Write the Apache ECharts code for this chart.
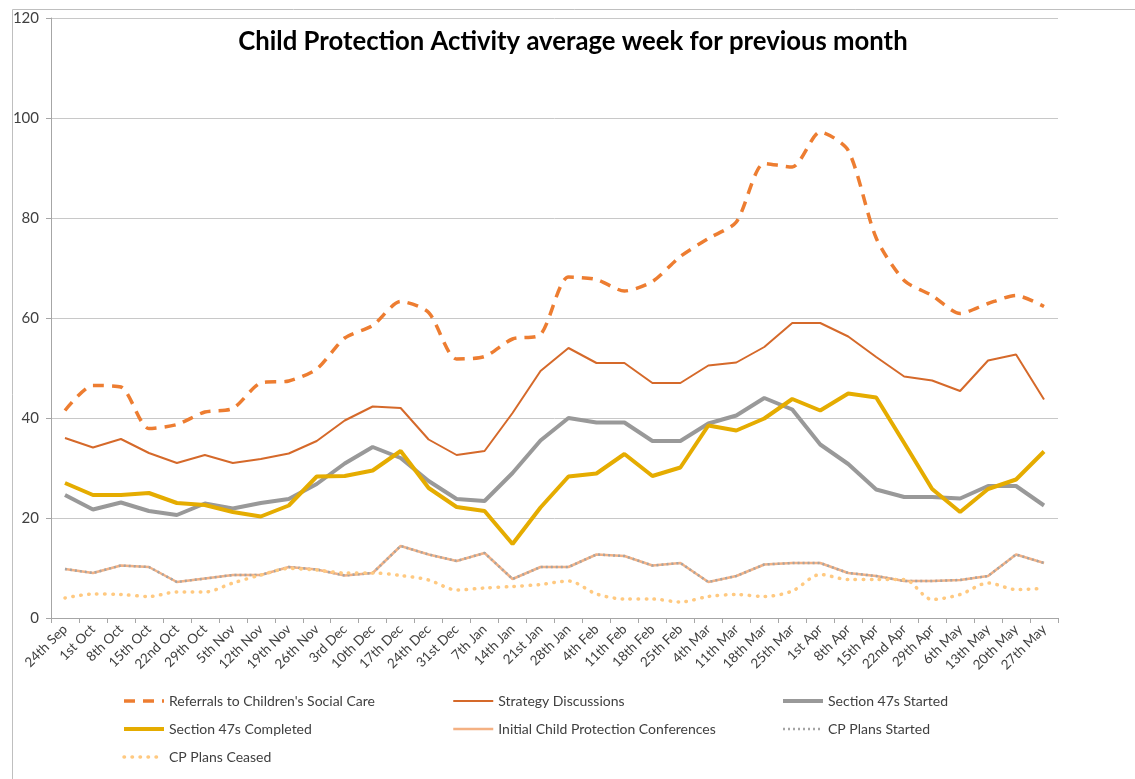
<!DOCTYPE html>
<html>
<head>
<meta charset="utf-8">
<script src="https://cdn.jsdelivr.net/npm/echarts@6/dist/echarts.min.js"></script>
<style>html,body{margin:0;padding:0;background:#fff;}#c{width:1135px;height:779px;}</style>
</head>
<body>
<div id="c"></div>
<script>
var categories = ['24th Sep','1st Oct','8th Oct','15th Oct','22nd Oct','29th Oct','5th Nov','12th Nov','19th Nov','26th Nov','3rd Dec','10th Dec','17th Dec','24th Dec','31st Dec','7th Jan','14th Jan','21st Jan','28th Jan','4th Feb','11th Feb','18th Feb','25th Feb','4th Mar','11th Mar','18th Mar','25th Mar','1st Apr','8th Apr','15th Apr','22nd Apr','29th Apr','6th May','13th May','20th May','27th May'];
var referrals = [41.5,46.5,46.2,37.9,38.7,41.2,41.9,47.0,47.4,49.8,56.0,58.5,63.3,61.1,51.8,52.3,55.8,56.7,68.2,67.7,65.4,67.3,72.3,75.9,79.2,90.9,90.2,97.2,93.5,76.0,67.5,64.5,60.9,62.9,64.5,62.3];
var strategy = [36.0,34.1,35.8,33.0,31.0,32.6,31.0,31.8,32.9,35.4,39.5,42.3,42.0,35.7,32.6,33.4,41.0,49.4,54.0,51.0,51.0,47.0,47.0,50.5,51.1,54.2,59.0,59.0,56.3,52.2,48.3,47.5,45.4,51.5,52.7,43.7];
var s47Started = [24.6,21.7,23.1,21.4,20.6,22.9,21.9,23.0,23.8,26.8,30.9,34.2,32.0,27.4,23.8,23.4,29.0,35.5,40.0,39.1,39.1,35.4,35.4,38.9,40.5,44.0,41.7,34.7,30.8,25.7,24.2,24.2,23.9,26.4,26.4,22.5];
var s47Completed = [27.0,24.6,24.6,25.0,23.0,22.6,21.2,20.3,22.5,28.3,28.4,29.5,33.4,26.0,22.2,21.4,14.8,22.1,28.3,28.9,32.8,28.4,30.1,38.5,37.5,39.9,43.8,41.5,44.9,44.1,35.0,25.8,21.2,25.8,27.7,33.3];
var icpc = [9.8,9.0,10.5,10.2,7.2,7.9,8.6,8.6,10.2,9.7,8.5,9.0,14.4,12.7,11.4,13.0,7.8,10.2,10.2,12.7,12.4,10.5,11.0,7.2,8.4,10.7,11.0,11.0,9.0,8.4,7.4,7.4,7.6,8.4,12.7,11.0];
var cpStarted = [9.8,9.0,10.5,10.2,7.2,7.9,8.6,8.6,10.2,9.7,8.5,9.0,14.4,12.7,11.4,13.0,7.8,10.2,10.2,12.7,12.4,10.5,11.0,7.2,8.4,10.7,11.0,11.0,9.0,8.4,7.4,7.4,7.6,8.4,12.7,11.0];
var cpCeased = [4.0,4.8,4.7,4.3,5.2,5.2,7.0,8.6,9.9,9.6,9.0,9.0,8.5,7.6,5.6,6.0,6.3,6.7,7.4,4.8,3.8,3.8,3.2,4.3,4.7,4.3,5.4,8.7,7.7,7.7,7.7,3.7,4.7,7.0,5.7,5.9];
var yTicks = {min: 0, max: 120, interval: 20};

var FONT = 'Lato, "Liberation Sans", sans-serif';
var chart = echarts.init(document.getElementById('c'), null, {renderer: 'canvas'});

var styles = {
  "Referrals to Children's Social Care": {color: '#ED7D31', width: 3.5, type: [11, 8], cap: 'butt'},
  'Strategy Discussions': {color: '#D5692A', width: 2, type: 'solid'},
  'Section 47s Started': {color: '#999999', width: 4, type: 'solid'},
  'Section 47s Completed': {color: '#E5AC00', width: 4, type: 'solid'},
  'Initial Child Protection Conferences': {color: '#F4B183', width: 2.5, type: 'solid'},
  'CP Plans Started': {color: '#A5A5A5', width: 2.5, type: [2, 3]},
  'CP Plans Ceased': {color: '#FFC980', width: 3.5, type: [0.5, 7.5], cap: 'round'}
};

function legendCol(names, left) {
  return {
    orient: 'vertical', left: left, top: 694, padding: 0,
    itemWidth: 40, itemHeight: 14, itemGap: 14,
    itemStyle: {opacity: 0},
    textStyle: {fontFamily: FONT, fontSize: 14, color: '#404040'},
    data: names.map(function (n) {
      var s = styles[n];
      return {name: n, itemStyle: {opacity: 0}, lineStyle: {color: s.color, width: s.width, type: s.type, cap: s.cap || 'butt'}};
    }),
    selectedMode: false
  };
}

function mk(name, data, extra) {
  var s = styles[name];
  var o = {name: name, type: 'line', data: data, symbol: 'none',
    lineStyle: {color: s.color, width: s.width, type: s.type, cap: s.cap || 'butt'},
    itemStyle: {color: s.color}};
  for (var k in extra) o[k] = extra[k];
  return o;
}

chart.setOption({
  animation: false,
  backgroundColor: '#ffffff',
  graphic: [{
    type: 'rect', left: 10, top: 7, shape: {width: 1300, height: 900},
    style: {fill: 'none', stroke: '#BFBFBF', lineWidth: 1}, silent: true, z: -1
  }],
  title: {
    text: 'Child Protection Activity average week for previous month',
    left: 568, top: 24, textAlign: 'center',
    textStyle: {fontFamily: FONT, fontSize: 25.7, fontWeight: 'bold', color: '#000'}
  },
  legend: [
    legendCol(["Referrals to Children's Social Care", 'Section 47s Completed', 'CP Plans Ceased'], 122),
    legendCol(['Strategy Discussions', 'Initial Child Protection Conferences'], 452),
    legendCol(['Section 47s Started', 'CP Plans Started'], 781)
  ],
  grid: {left: 51, right: 77, top: 18, bottom: 161, containLabel: false},
  xAxis: {
    type: 'category', data: categories, boundaryGap: true,
    axisLine: {lineStyle: {color: '#A6A6A6', width: 1}},
    axisTick: {show: true, length: 5, lineStyle: {color: '#A6A6A6'}},
    axisLabel: {rotate: 45, interval: 0, margin: 9, fontFamily: FONT, fontSize: 13.5, color: '#404040'},
    splitLine: {show: false}
  },
  yAxis: {
    type: 'value', min: yTicks.min, max: yTicks.max, interval: yTicks.interval,
    axisLine: {show: true, lineStyle: {color: '#A6A6A6', width: 1}},
    axisTick: {show: true, length: 5, lineStyle: {color: '#A6A6A6'}},
    axisLabel: {margin: 12, fontFamily: FONT, fontSize: 15, color: '#404040'},
    splitLine: {show: true, lineStyle: {color: '#C8C8C8', width: 1}}
  },
  series: [
    mk("Referrals to Children's Social Care", referrals, {smooth: 0.25, z: 2}),
    mk('Strategy Discussions', strategy, {z: 2}),
    mk('Section 47s Started', s47Started, {z: 2}),
    mk('Section 47s Completed', s47Completed, {z: 3}),
    mk('Initial Child Protection Conferences', icpc, {z: 3}),
    mk('CP Plans Started', cpStarted, {z: 4}),
    mk('CP Plans Ceased', cpCeased, {smooth: 0.3, z: 4})
  ]
});
</script>
</body>
</html>
